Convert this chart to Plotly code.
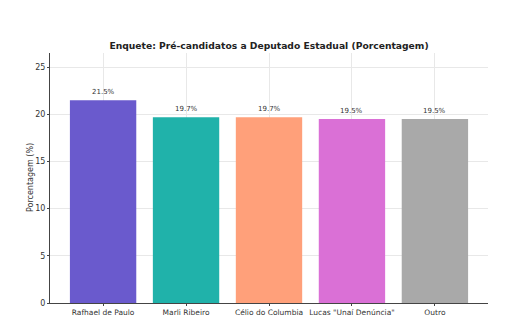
import plotly.graph_objects as go

categories = ["Rafhael de Paulo", "Marli Ribeiro", "Célio do Columbia", "Lucas \"Unaí Denúncia\"", "Outro"]
values = [21.5, 19.7, 19.7, 19.5, 19.5]
labels = ["21.5%", "19.7%", "19.7%", "19.5%", "19.5%"]
colors = ["#6A5ACD", "#20B2AA", "#FFA07A", "#DA70D6", "#A9A9A9"]
yticks = [0, 5, 10, 15, 20, 25]

fig = go.Figure()
fig.add_trace(go.Bar(
    x=list(range(len(categories))), y=values, width=0.8,
    marker=dict(color=colors, line=dict(width=0)),
))
for i, (v, t) in enumerate(zip(values, labels)):
    fig.add_annotation(x=i, y=v, text=t, showarrow=False, yanchor="bottom", yshift=2,
                       font=dict(family="DejaVu Sans", size=7, color="#333333"))

fig.add_annotation(xref="paper", yref="paper", x=-20 / 438, y=0.5, xanchor="center", yanchor="middle",
                   text="Porcentagem (%)", textangle=-90, showarrow=False,
                   font=dict(family="DejaVu Sans", size=8, color="#333333"))

fig.update_layout(
    width=508, height=322,
    margin=dict(l=50, r=20, t=53, b=19),
    paper_bgcolor="white", plot_bgcolor="white",
    showlegend=False,
    title=dict(text="<b>Enquete: Pré-candidatos a Deputado Estadual (Porcentagem)</b>",
               x=(50 + 488) / 2 / 508, xanchor="center", y=1 - 46 / 322, yanchor="middle",
               font=dict(family="DejaVu Sans", size=9.2, color="#222222")),
    font=dict(family="DejaVu Sans", size=8, color="#333333"),
)
fig.update_xaxes(
    range=[-0.64, 4.64], tickmode="array", tickvals=list(range(len(categories))), ticktext=categories,
    showgrid=True, gridcolor="#e8e8e8", gridwidth=1,
    showline=True, linecolor="#444444", linewidth=1,
    ticks="outside", ticklen=2, tickcolor="#444444", tickangle=0, automargin=False,
    tickfont=dict(family="DejaVu Sans", size=7.5, color="#333333"),
    zeroline=False, layer="above traces",
)
fig.update_yaxes(
    range=[0, 26.5], tickmode="array", tickvals=yticks,
    showgrid=True, gridcolor="#e8e8e8", gridwidth=1,
    showline=True, linecolor="#444444", linewidth=1,
    ticks="outside", ticklen=2, tickcolor="#444444", automargin=False,
    tickfont=dict(family="DejaVu Sans", size=8, color="#333333"),
    zeroline=False, layer="above traces",
)
fig.write_html("out.html")
